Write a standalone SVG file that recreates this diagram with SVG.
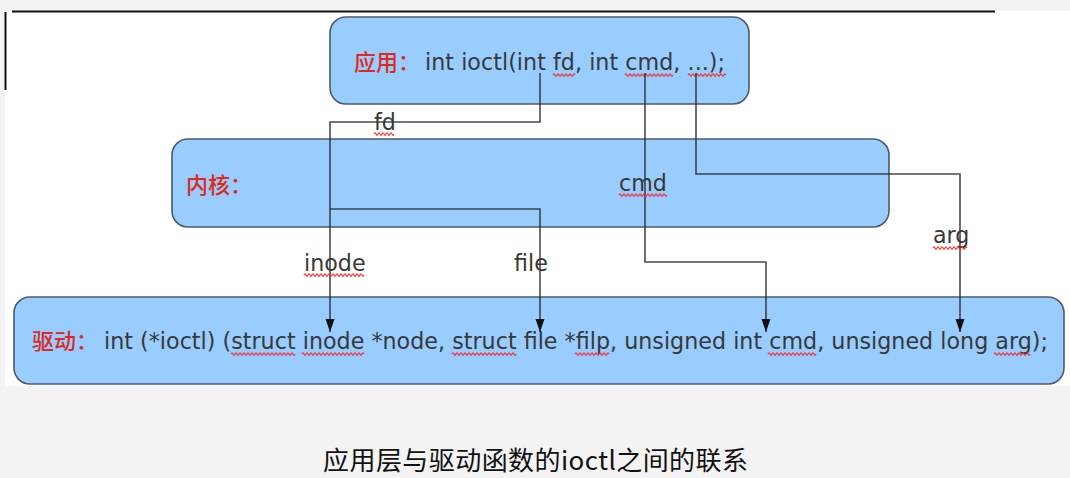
<svg xmlns="http://www.w3.org/2000/svg" width="1070" height="478" viewBox="0 0 1070 478">
<style>
.box{fill:#99ccff;stroke:#4d5966;stroke-width:1.6}
.code{font-family:"DejaVu Sans",sans-serif;font-size:22.2px;fill:#383838}
.red{font-family:"Noto Sans CJK SC",sans-serif;font-size:22px;font-weight:500;fill:#dd2a1d}
.conn{fill:none;stroke:#2b2b2b;stroke-opacity:0.85;stroke-width:1.6}
.sq{fill:none;stroke:#ff2020;stroke-width:1.1}
.cap{font-family:"Noto Sans CJK SC",sans-serif;font-size:26px;fill:#111111}
</style>
<defs>
<marker id="arr" markerUnits="userSpaceOnUse" markerWidth="14" markerHeight="10" refX="13" refY="4.5" orient="auto">
<path d="M0,0 L13,4.5 L0,9 z" fill="#111111"/>
</marker>
</defs>
<rect x="0" y="0" width="1070" height="478" fill="#f3f3f3"/>
<rect x="5" y="11" width="1065" height="375" fill="#ffffff"/>
<line x1="12" y1="11.5" x2="995" y2="11.5" stroke="#111" stroke-width="2"/>
<line x1="5.5" y1="12" x2="5.5" y2="90" stroke="#111" stroke-width="2"/>

<g id="app">
<rect class="box" x="330" y="17" width="419" height="87" rx="16"/>
<text class="red" x="354" y="70">应用：</text>
<text class="code" x="425" y="70" textLength="300">int ioctl(int fd, int cmd, ...);</text>
<path class="sq" d="M553,75 q1,-2.4 2,0 t2,0 t2,0 t2,0 t2,0 t2,0 t2,0 t2,0 t2,0 t2,0 t2,0"/>
<path class="sq" d="M625,75 q1,-2.4 2,0 t2,0 t2,0 t2,0 t2,0 t2,0 t2,0 t2,0 t2,0 t2,0 t2,0 t2,0 t2,0 t2,0 t2,0 t2,0 t2,0 t2,0 t2,0 t2,0 t2,0 t2,0 t2,0 t2,0"/>
<path class="sq" d="M688,75 q1,-2.4 2,0 t2,0 t2,0 t2,0 t2,0 t2,0 t2,0 t2,0 t2,0 t2,0 t2,0 t2,0 t2,0 t2,0 t2,0 t2,0 t2,0 t2,0 t2,0"/>
</g>

<g id="kernel">
<rect class="box" x="172" y="139" width="717" height="88" rx="16"/>
<text class="red" x="186" y="193">内核：</text>
</g>

<g id="driver">
<rect class="box" x="14" y="297" width="1050" height="87" rx="16"/>
<text class="red" x="32" y="349">驱动：</text>
<text class="code" x="104" y="349" textLength="944">int (*ioctl) (struct inode *node, struct file *filp, unsigned int cmd, unsigned long arg);</text>
<path class="sq" d="M231,354 q1,-2.4 2,0 t2,0 t2,0 t2,0 t2,0 t2,0 t2,0 t2,0 t2,0 t2,0 t2,0 t2,0 t2,0 t2,0 t2,0 t2,0 t2,0 t2,0 t2,0 t2,0 t2,0 t2,0 t2,0 t2,0 t2,0 t2,0 t2,0 t2,0 t2,0 t2,0 t2,0 t2,0"/>
<path class="sq" d="M302,354 q1,-2.4 2,0 t2,0 t2,0 t2,0 t2,0 t2,0 t2,0 t2,0 t2,0 t2,0 t2,0 t2,0 t2,0 t2,0 t2,0 t2,0 t2,0 t2,0 t2,0 t2,0 t2,0 t2,0 t2,0 t2,0 t2,0 t2,0 t2,0 t2,0 t2,0 t2,0 t2,0"/>
<path class="sq" d="M452,354 q1,-2.4 2,0 t2,0 t2,0 t2,0 t2,0 t2,0 t2,0 t2,0 t2,0 t2,0 t2,0 t2,0 t2,0 t2,0 t2,0 t2,0 t2,0 t2,0 t2,0 t2,0 t2,0 t2,0 t2,0 t2,0 t2,0 t2,0 t2,0 t2,0 t2,0 t2,0 t2,0 t2,0"/>
<path class="sq" d="M575,354 q1,-2.4 2,0 t2,0 t2,0 t2,0 t2,0 t2,0 t2,0 t2,0 t2,0 t2,0 t2,0 t2,0 t2,0 t2,0 t2,0 t2,0 t2,0"/>
<path class="sq" d="M768,354 q1,-2.4 2,0 t2,0 t2,0 t2,0 t2,0 t2,0 t2,0 t2,0 t2,0 t2,0 t2,0 t2,0 t2,0 t2,0 t2,0 t2,0 t2,0 t2,0 t2,0 t2,0 t2,0 t2,0 t2,0 t2,0"/>
<path class="sq" d="M994,354 q1,-2.4 2,0 t2,0 t2,0 t2,0 t2,0 t2,0 t2,0 t2,0 t2,0 t2,0 t2,0 t2,0 t2,0 t2,0 t2,0 t2,0 t2,0 t2,0"/>
</g>

<g id="connectors">
<path class="conn" d="M540,73 V122 H330 V332" marker-end="url(#arr)"/>
<path class="conn" d="M330,209 H540 V332" marker-end="url(#arr)"/>
<path class="conn" d="M645,73 V262 H766 V332" marker-end="url(#arr)"/>
<path class="conn" d="M696,73 V174 H960 V332" marker-end="url(#arr)"/>
</g>

<g id="labels">
<text class="code" x="374" y="130">fd</text>
<path class="sq" d="M374,134 q1,-2.4 2,0 t2,0 t2,0 t2,0 t2,0 t2,0 t2,0 t2,0 t2,0 t2,0"/>
<text class="code" x="619" y="191">cmd</text>
<path class="sq" d="M619,195 q1,-2.4 2,0 t2,0 t2,0 t2,0 t2,0 t2,0 t2,0 t2,0 t2,0 t2,0 t2,0 t2,0 t2,0 t2,0 t2,0 t2,0 t2,0 t2,0 t2,0 t2,0 t2,0 t2,0 t2,0 t2,0"/>
<text class="code" x="933" y="243">arg</text>
<path class="sq" d="M933,248 q1,-2.4 2,0 t2,0 t2,0 t2,0 t2,0 t2,0 t2,0 t2,0 t2,0 t2,0 t2,0 t2,0 t2,0 t2,0 t2,0 t2,0 t2,0"/>
<text class="code" x="304" y="271">inode</text>
<path class="sq" d="M304,275 q1,-2.4 2,0 t2,0 t2,0 t2,0 t2,0 t2,0 t2,0 t2,0 t2,0 t2,0 t2,0 t2,0 t2,0 t2,0 t2,0 t2,0 t2,0 t2,0 t2,0 t2,0 t2,0 t2,0 t2,0 t2,0 t2,0 t2,0 t2,0 t2,0 t2,0 t2,0"/>
<text class="code" x="514" y="271">file</text>
</g>

<text class="cap" x="323" y="470" textLength="425">应用层与驱动函数的ioctl之间的联系</text>
</svg>
